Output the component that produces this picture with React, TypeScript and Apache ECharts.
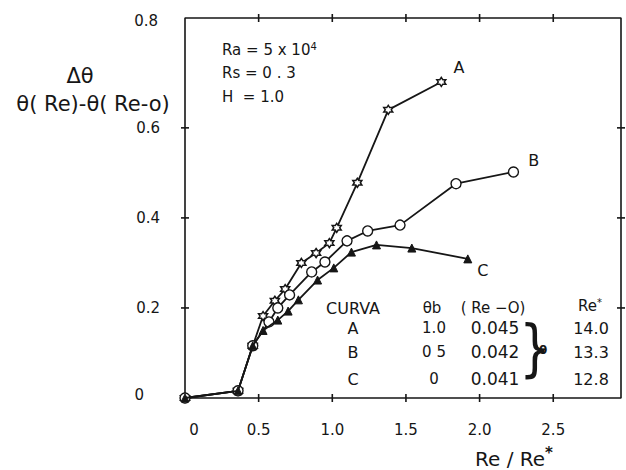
import React, { useEffect, useRef } from "react";
import * as echarts from "echarts";

// Curve A (θb = 1.0)
const curveAX = [0, 0.36, 0.46, 0.53, 0.61, 0.68, 0.79, 0.89, 0.98, 1.03, 1.17, 1.38, 1.74];
const curveAY = [0, 0.016, 0.116, 0.182, 0.216, 0.242, 0.3, 0.322, 0.344, 0.378, 0.478, 0.64, 0.702];
// Curve B (θb = 0.5)
const curveBX = [0, 0.36, 0.46, 0.57, 0.63, 0.71, 0.86, 0.95, 1.1, 1.24, 1.46, 1.84, 2.23];
const curveBY = [0, 0.016, 0.116, 0.169, 0.2, 0.229, 0.28, 0.302, 0.349, 0.371, 0.384, 0.476, 0.502];
// Curve C (θb = 0)
const curveCX = [0, 0.36, 0.46, 0.53, 0.63, 0.7, 0.77, 0.9, 1.01, 1.13, 1.3, 1.54, 1.92];
const curveCY = [0, 0.016, 0.116, 0.15, 0.173, 0.193, 0.218, 0.262, 0.289, 0.324, 0.34, 0.333, 0.309];

const curveNames = ["A", "B", "C"];
const thetaB = ["1.0", "0 5", "0"];
const reZero = ["0.045", "0.042", "0.041"];
const reStar = ["14.0", "13.3", "12.8"];

const xTicks = [0, 0.5, 1.0, 1.5, 2.0, 2.5];
const yTicks = [0, 0.2, 0.4, 0.6];
const params = ["Ra", "Rs", "H"];

const X_MAX = 2.96;
const Y_MAX = 0.844;

const INK = "#161616";
const FONT = "DejaVu Sans";
const STAR =
  "path://M0,-1 L0.29,-0.5 L0.87,-0.5 L0.58,0 L0.87,0.5 L0.29,0.5 L0,1 L-0.29,0.5 L-0.87,0.5 L-0.58,0 L-0.87,-0.5 L-0.29,-0.5 Z";

function buildData(xs: number[], ys: number[], name: string, offset: number[]) {
  return xs.map((x, i) => {
    const item: any = { value: [x, ys[i]] };
    if (i === xs.length - 1) {
      item.label = {
        show: true,
        formatter: name,
        position: "right",
        offset,
        color: INK,
        fontSize: 16,
        fontFamily: FONT,
      };
    }
    return item;
  });
}

export default function App() {
  const ref = useRef<HTMLDivElement>(null);
  useEffect(() => {
    if (!ref.current) return;
    const chart = echarts.init(ref.current, undefined, { renderer: "svg" });
    const txt = (x: number, y: number, text: string, size: number, align = "center", extra: any = {}) => ({
      type: "text",
      x,
      y,
      style: {
        text,
        fill: INK,
        fontSize: size,
        fontFamily: FONT,
        align,
        verticalAlign: "middle",
        ...extra,
      },
    });
    const rowY = [328, 352, 379];
    const tableEls: any[] = [
      txt(353, 308, "CURVA", 16),
      txt(432, 308, "θb", 15),
      txt(493, 308, "( Re −O)", 15),
      {
        type: "text",
        x: 590,
        y: 306,
        style: {
          text: "{a|Re}{s|*}",
          fill: INK,
          fontFamily: FONT,
          align: "center",
          verticalAlign: "middle",
          rich: {
            a: { fontSize: 15, fontFamily: FONT, fill: INK },
            s: { fontSize: 10, fontFamily: FONT, fill: INK, padding: [0, 0, 8, 0] },
          },
        },
      },
    ];
    curveNames.forEach((c, i) => {
      tableEls.push(txt(353, rowY[i], c, 16));
      tableEls.push(txt(434, rowY[i], thetaB[i], 15));
      tableEls.push(txt(495, rowY[i], reZero[i], 17));
      tableEls.push(txt(591, rowY[i], reStar[i], 16));
    });
    tableEls.push({
      type: "text",
      x: 535,
      y: 347,
      scaleX: 0.8,
      style: { text: "}", fill: INK, fontSize: 62, fontFamily: FONT, align: "center", verticalAlign: "middle" },
    });
    tableEls.push(txt(543, 350, "θ", 12, "center", { fontWeight: "bold" }));

    const labelCommon = { color: INK, fontSize: 15, fontFamily: FONT };
    const frameData = [[0, 0], [X_MAX, 0], [X_MAX, Y_MAX], [0, Y_MAX], [0, 0]];

    chart.setOption({
      animation: false,
      backgroundColor: "#ffffff",
      grid: { left: 185, top: 18, right: 5, bottom: 72 },
      xAxis: {
        type: "value",
        min: 0,
        max: X_MAX,
        interval: 0.5,
        axisLine: { show: false },
        axisTick: { show: false },
        axisLabel: {
          ...labelCommon,
          customValues: xTicks,
          margin: 24,
          formatter: (v: number) => (v === 0 ? "{z|0}" : v.toFixed(1)),
          rich: { z: { ...labelCommon, padding: [0, 0, 0, 18] } },
        },
        splitLine: { show: false },
      },
      yAxis: {
        type: "value",
        min: 0,
        max: Y_MAX,
        interval: 0.2,
        axisLine: { show: false },
        axisTick: { show: false },
        axisLabel: {
          ...labelCommon,
          customValues: yTicks,
          margin: 25,
          formatter: (v: number) => (v === 0 ? "{z|0}" : v.toFixed(1)),
          rich: { z: { ...labelCommon, padding: [0, 16, 6, 0] } },
        },
        splitLine: { show: false },
      },
      series: [
        {
          type: "line",
          name: "frame",
          data: frameData,
          symbol: "none",
          clip: false,
          silent: true,
          lineStyle: { color: INK, width: 1.6 },
          z: 2,
        },
        {
          type: "line",
          name: "A",
          data: buildData(curveAX, curveAY, "A", [2, -14]),
          symbol: STAR,
          symbolSize: 9,
          lineStyle: { color: INK, width: 1.8 },
          itemStyle: { color: "#ffffff", borderColor: INK, borderWidth: 1.5 },
          z: 3,
        },
        {
          type: "line",
          name: "B",
          data: buildData(curveBX, curveBY, "B", [4, -11]),
          symbol: "circle",
          symbolSize: 10,
          lineStyle: { color: INK, width: 1.8 },
          itemStyle: { color: "#ffffff", borderColor: INK, borderWidth: 1.4 },
          z: 4,
        },
        {
          type: "line",
          name: "C",
          data: buildData(curveCX, curveCY, "C", [0, 12]),
          symbol: "triangle",
          symbolSize: 8,
          lineStyle: { color: INK, width: 1.8 },
          itemStyle: { color: INK, borderColor: INK, borderWidth: 1 },
          z: 5,
        },
      ],
    });

    // Tick marks on all four sides, placed through the chart's own scales.
    const px = (x: number, y: number) => chart.convertToPixel({ xAxisIndex: 0, yAxisIndex: 0 }, [x, y]) as number[];
    const o = px(0, 0);
    const m = px(X_MAX, Y_MAX);
    const st = { stroke: INK, lineWidth: 1.6 };
    const tickEls: any[] = [];
    xTicks.slice(1).forEach((t) => {
      const c = px(t, 0);
      tickEls.push({ type: "line", shape: { x1: c[0], y1: o[1] - 4, x2: c[0], y2: o[1] + 4 }, style: st, z: 10 });
      tickEls.push({ type: "line", shape: { x1: c[0], y1: m[1] - 4, x2: c[0], y2: m[1] + 4 }, style: st, z: 10 });
    });
    yTicks.slice(1).forEach((t) => {
      const c = px(0, t);
      tickEls.push({ type: "line", shape: { x1: o[0] - 4, y1: c[1], x2: o[0] + 4, y2: c[1] }, style: st, z: 10 });
      tickEls.push({ type: "line", shape: { x1: m[0] - 4, y1: c[1], x2: m[0] + 4, y2: c[1] }, style: st, z: 10 });
    });

    chart.setOption({
      graphic: [
        txt(80, 76, "Δθ", 21),
        txt(93, 104, "θ( Re)-θ( Re-o)", 21),
        txt(158, 21, "0.8", 15, "right"),
        {
          type: "text",
          x: 222,
          y: 50,
          style: {
            text: "{a|" + params[0] + " = 5 x 10}{s|4}",
            fill: INK,
            fontFamily: FONT,
            align: "left",
            verticalAlign: "middle",
            rich: {
              a: { fontSize: 15, fontFamily: FONT, fill: INK },
              s: { fontSize: 10, fontFamily: FONT, fill: INK, padding: [0, 0, 8, 0] },
            },
          },
        },
        txt(222, 73, params[1] + " = 0 . 3", 15, "left"),
        txt(222, 97, params[2] + "  = 1.0", 15, "left"),
        {
          type: "text",
          x: 514,
          y: 459,
          style: {
            text: "{a|Re / Re}{s|*}",
            fill: INK,
            fontFamily: FONT,
            align: "center",
            verticalAlign: "middle",
            rich: {
              a: { fontSize: 20, fontFamily: FONT, fill: INK },
              s: { fontSize: 15, fontFamily: FONT, fill: INK, fontWeight: "bold", padding: [0, 0, 13, 0] },
            },
          },
        },
        ...tableEls,
        ...tickEls,
      ],
    });
    return () => chart.dispose();
  }, []);
  return <div ref={ref} style={{ position: "absolute", left: 0, top: 0, width: 626, height: 470 }} />;
}
